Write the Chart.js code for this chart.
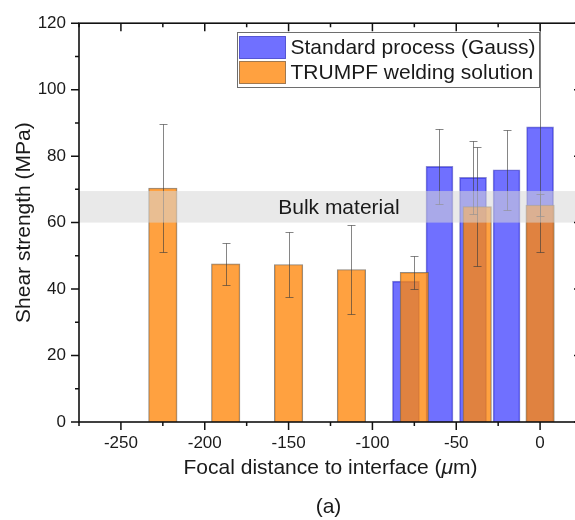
<!DOCTYPE html>
<html>
<head>
<meta charset="utf-8">
<title>Shear strength vs focal distance</title>
<script src="https://cdn.jsdelivr.net/npm/chart.js@4.4.1/dist/chart.umd.min.js"></script>
<style>
html,body{margin:0;padding:0;overflow:hidden;background:#ffffff;}
#wrap{position:relative;width:584px;height:520px;}
</style>
</head>
<body>
<div id="wrap"><canvas id="chart"></canvas></div>
<script>
// ---------------- data ----------------
const xTickValues = [-250, -200, -150, -100, -50, 0];
const yTickValues = [0, 20, 40, 60, 80, 100, 120];
const seriesNames = ['Standard process (Gauss)', 'TRUMPF welding solution'];
const gaussFocal = [-80, -60, -40, -20, 0];
const gaussShear = [42.4, 76.9, 73.6, 75.9, 88.8];
const gaussErr   = [0, 11.3, 11.1, 12.1, 37.6];
const trumpfFocal = [-225, -187.5, -150, -112.5, -75, -37.5, 0];
const trumpfShear = [70.4, 47.6, 47.4, 45.9, 45.0, 64.8, 65.3];
const trumpfErr   = [19.2, 6.3, 9.7, 13.3, 5.0, 17.8, 3.2];
const bulkRange = [60, 69.5];
const bulkLabel = 'Bulk material';
const xTitle = ['Focal distance to interface (', 'μ', 'm)'];
const panelLabel = '(a)';

// ---------------- styles ----------------
const FONT = '"Liberation Sans", Arial, Helvetica, sans-serif';
const TEXT = '#1a1a1a';
const BLUE_FILL = 'rgba(0,0,255,0.56)';
const BLUE_EDGE = 'rgba(40,40,170,0.55)';
const ORANGE_FILL = 'rgba(255,135,10,0.78)';
const ORANGE_EDGE = 'rgba(110,100,90,0.75)';

Chart.defaults.font.family = FONT;
Chart.defaults.color = TEXT;

const decor = {
  id: 'decor',
  afterDatasetsDraw(chart) {
    const {ctx, chartArea: a, scales: {x, y}} = chart;
    ctx.save();
    ctx.beginPath();
    ctx.rect(a.left, a.top, a.right - a.left, a.bottom - a.top);
    ctx.clip();
    // error bars
    const drawErr = (xs, vals, errs) => {
      ctx.strokeStyle = 'rgba(60,60,60,0.62)';
      ctx.lineWidth = 1;
      xs.forEach((xv, i) => {
        if (!errs[i]) return;
        const px = Math.round(x.getPixelForValue(xv)) + 0.5;
        const pt = Math.round(y.getPixelForValue(vals[i] + errs[i])) + 0.5;
        const pb = Math.round(y.getPixelForValue(vals[i] - errs[i])) + 0.5;
        ctx.beginPath();
        ctx.moveTo(px, pt); ctx.lineTo(px, pb);
        ctx.moveTo(px - 4, pt); ctx.lineTo(px + 4, pt);
        ctx.moveTo(px - 4, pb); ctx.lineTo(px + 4, pb);
        ctx.stroke();
      });
    };
    drawErr(gaussFocal, gaussShear, gaussErr);
    drawErr(trumpfFocal, trumpfShear, trumpfErr);
    // bulk material band
    const b1 = y.getPixelForValue(bulkRange[1]);
    const b0 = y.getPixelForValue(bulkRange[0]);
    ctx.fillStyle = 'rgba(215,215,215,0.55)';
    ctx.fillRect(a.left, b1, a.right - a.left, b0 - b1);
    ctx.fillStyle = TEXT;
    ctx.font = '21px ' + FONT;
    ctx.textAlign = 'center';
    ctx.textBaseline = 'middle';
    ctx.fillText(bulkLabel, x.getPixelForValue(-120), (b0 + b1) / 2 + 1);
    ctx.restore();
  },
  afterDraw(chart) {
    const {ctx, chartArea: a, scales: {x, y}} = chart;
    ctx.save();
    // frame
    ctx.strokeStyle = '#111';
    ctx.lineWidth = 1.6;
    ctx.strokeRect(a.left, a.top, a.right - a.left, a.bottom - a.top);
    ctx.lineWidth = 1.5;
    // x ticks (bottom outward, top inward)
    const xs = (xTickValues[1] - xTickValues[0]) / 2;
    for (let v = x.min; v <= x.max + 1e-6; v += xs) {
      const major = Math.abs(v % (2 * xs)) < 1e-6;
      const L = major ? 8 : 4;
      const px = x.getPixelForValue(v);
      ctx.beginPath();
      ctx.moveTo(px, a.bottom); ctx.lineTo(px, a.bottom + L);
      ctx.moveTo(px, a.top); ctx.lineTo(px, a.top + L);
      ctx.stroke();
    }
    // y ticks (left outward, right inward)
    const ys = (yTickValues[1] - yTickValues[0]) / 2;
    for (let v = y.min; v <= y.max + 1e-6; v += ys) {
      const major = Math.abs(v % (2 * ys)) < 1e-6;
      const L = major ? 8 : 4;
      const py = y.getPixelForValue(v);
      ctx.beginPath();
      ctx.moveTo(a.left, py); ctx.lineTo(a.left - L, py);
      ctx.moveTo(a.right, py); ctx.lineTo(a.right - L, py);
      ctx.stroke();
    }
    // legend
    const lx = 237.5, ly = 32.5, lw = 302, lh = 55;
    ctx.fillStyle = '#fff';
    ctx.fillRect(lx, ly, lw, lh);
    ctx.strokeStyle = '#6e6e6e';
    ctx.lineWidth = 1;
    ctx.strokeRect(lx, ly, lw, lh);
    const sw = [[BLUE_FILL, 'rgba(60,60,200,0.8)'], [ORANGE_FILL, 'rgba(150,110,70,0.9)']];
    ctx.font = '21px ' + FONT;
    ctx.textAlign = 'left';
    ctx.textBaseline = 'middle';
    seriesNames.forEach((name, i) => {
      const sy = ly + 4 + i * 25;
      ctx.fillStyle = sw[i][0];
      ctx.fillRect(lx + 2, sy, 46, 22);
      ctx.strokeStyle = sw[i][1];
      ctx.strokeRect(lx + 2, sy, 46, 22);
      ctx.fillStyle = TEXT;
      ctx.fillText(name, lx + 53, sy + 12);
    });
    // x title with italic mu
    const cx = (a.left + a.right) / 2;
    const f1 = '21px ' + FONT, f2 = 'italic 21px ' + FONT;
    ctx.font = f1; const w0 = ctx.measureText(xTitle[0]).width;
    ctx.font = f2; const w1 = ctx.measureText(xTitle[1]).width;
    ctx.font = f1; const w2 = ctx.measureText(xTitle[2]).width;
    let tx = cx - (w0 + w1 + w2) / 2;
    const ty = 468;
    ctx.fillStyle = TEXT;
    ctx.font = f1; ctx.fillText(xTitle[0], tx, ty); tx += w0;
    ctx.font = f2; ctx.fillText(xTitle[1], tx, ty); tx += w1;
    ctx.font = f1; ctx.fillText(xTitle[2], tx, ty);
    ctx.textAlign = 'center';
    ctx.fillText(panelLabel, cx - 2, 507);
    ctx.restore();
  }
};

new Chart(document.getElementById('chart'), {
  type: 'bar',
  data: {
    datasets: [
      {
        label: seriesNames[0],
        data: gaussFocal.map((v, i) => ({x: v, y: gaussShear[i]})),
        backgroundColor: BLUE_FILL,
        borderColor: BLUE_EDGE,
        borderWidth: 1,
        barThickness: 27,
        grouped: false,
        order: 2
      },
      {
        label: seriesNames[1],
        data: trumpfFocal.map((v, i) => ({x: v, y: trumpfShear[i]})),
        backgroundColor: ORANGE_FILL,
        borderColor: ORANGE_EDGE,
        borderWidth: 1,
        barThickness: 28.5,
        grouped: false,
        order: 1
      }
    ]
  },
  options: {
    responsive: true,
    maintainAspectRatio: false,
    animation: false,
    layout: {padding: {top: 17, right: 2, left: 0, bottom: 0}},
    plugins: {legend: {display: false}, tooltip: {enabled: false}},
    scales: {
      x: {
        type: 'linear',
        offset: false,
        min: -275,
        max: 25,
        afterBuildTicks: s => { s.ticks = xTickValues.map(v => ({value: v})); },
        afterFit: s => { s.height = 98; },
        grid: {display: false, drawTicks: false, offset: false},
        border: {display: false},
        ticks: {font: {size: 17}, color: TEXT, padding: 11, maxRotation: 0, autoSkip: false}
      },
      y: {
        type: 'linear',
        min: 0,
        max: 120,
        afterBuildTicks: s => { s.ticks = yTickValues.map(v => ({value: v})); },
        afterFit: s => { s.width = 79; },
        grid: {display: false, drawTicks: false},
        border: {display: false},
        ticks: {font: {size: 17}, color: TEXT, padding: 13},
        title: {display: true, text: 'Shear strength (MPa)', color: TEXT, font: {size: 21}, padding: {top: 12, bottom: 0}}
      }
    }
  },
  plugins: [decor]
});
</script>
</body>
</html>
